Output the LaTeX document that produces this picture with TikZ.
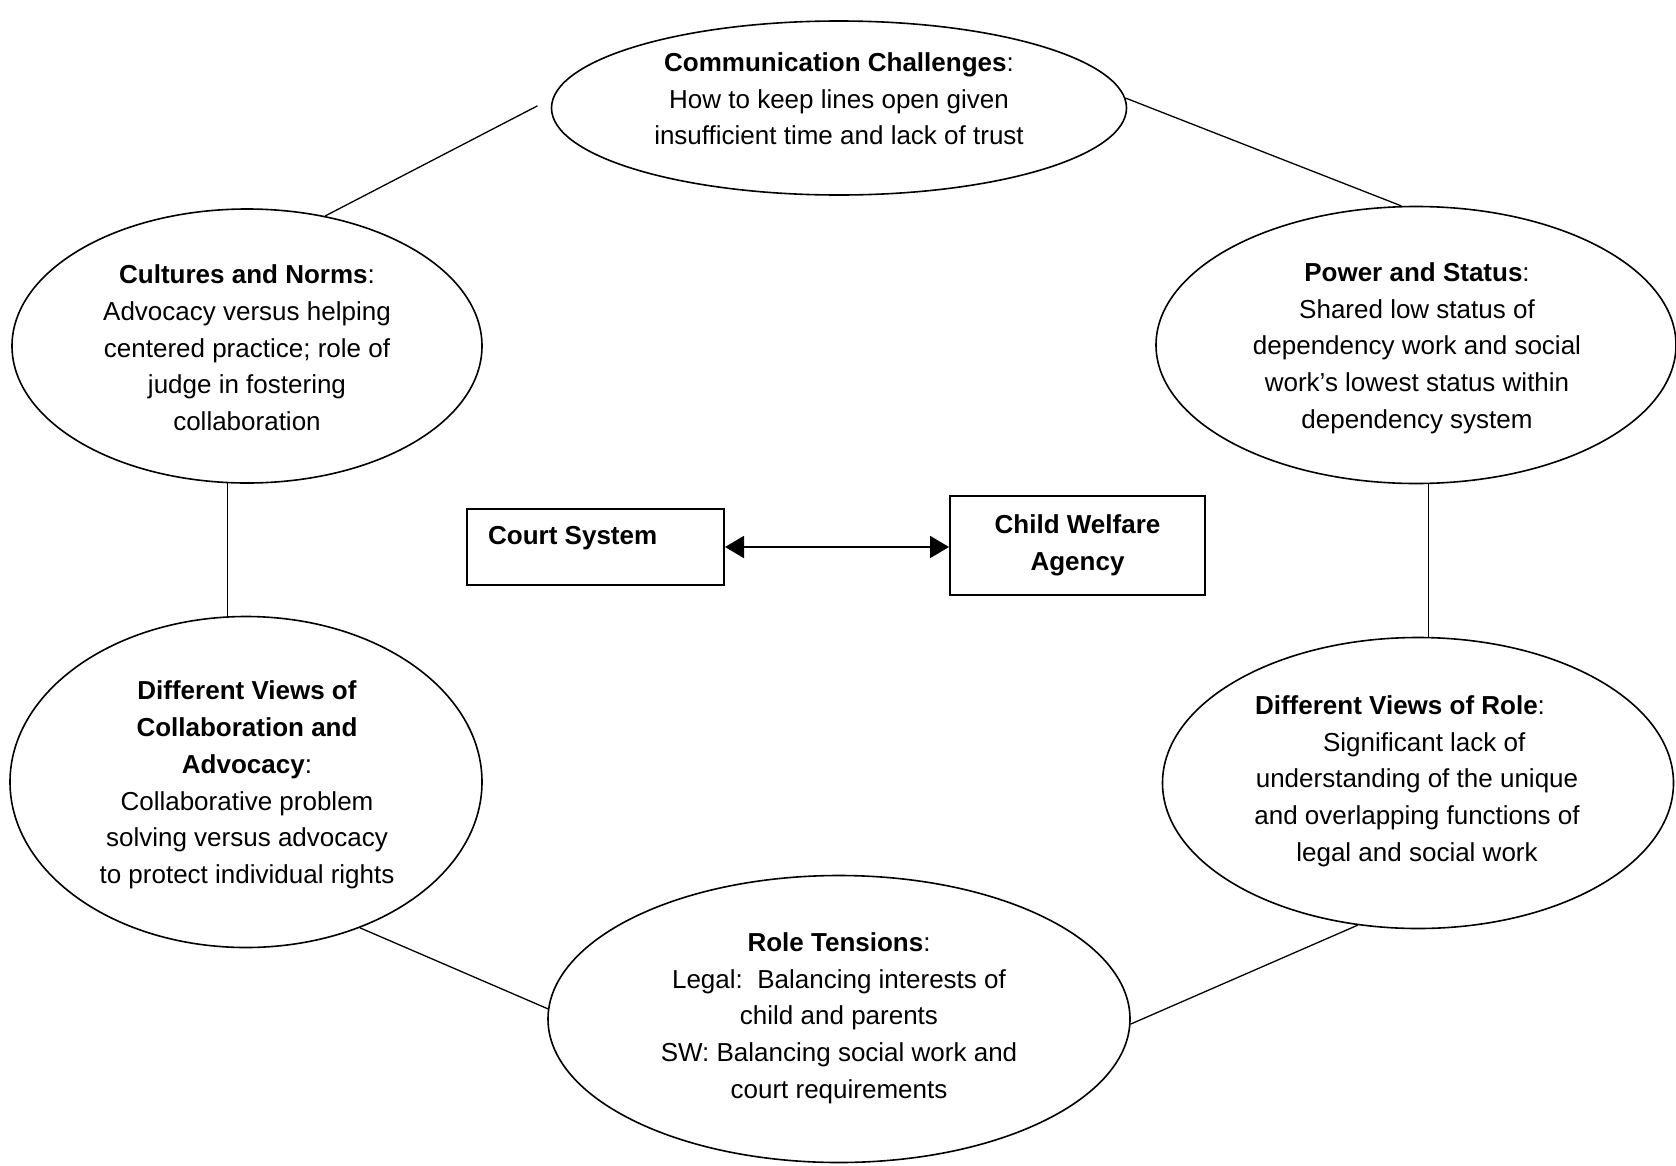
\documentclass[tikz,border=0pt]{standalone}
\usepackage{fontspec}
\setmainfont{Liberation Sans}
\usetikzlibrary{shapes.geometric,arrows.meta}
\begin{document}
\begin{tikzpicture}[x=1pt,y=-1pt,
  oval/.style={draw, ellipse, line width=1.6pt, inner sep=0pt},
  txt/.style={align=center, font=\fontsize{26}{36.7}\selectfont, inner sep=0pt},
  link/.style={line width=1.3pt},
  box/.style={draw, line width=2pt}]
\useasboundingbox (0,0) rectangle (1676,1165);

% ellipses
\node[oval, minimum width=575pt, minimum height=174pt] (comm) at (839,108) {};
\node[txt] (commT) at (839,99) {\textbf{Communication Challenges}:\\How to keep lines open given\\insufficient time and lack of trust};

\node[oval, minimum width=470pt, minimum height=274pt] (cult) at (247,346) {};
\node[txt] (cultT) at (247,348) {\textbf{Cultures and Norms}:\\Advocacy versus helping\\centered practice; role of\\judge in fostering\\collaboration};

\node[oval, minimum width=520pt, minimum height=277pt] (pow) at (1416,345) {};
\node[txt] (powT) at (1417,348) {\textbf{Power and Status}:\\Shared low status of\\dependency work and social\\work’s lowest status within\\dependency system};

\node[oval, minimum width=472pt, minimum height=331pt] (collab) at (246,782) {};
\node[txt] (collabT) at (247,785) {\textbf{Different Views of}\\\textbf{Collaboration and}\\\textbf{Advocacy}:\\Collaborative problem\\solving versus advocacy\\to protect individual rights};

\node[oval, minimum width=511pt, minimum height=291pt] (rview) at (1418,783) {};
\node[txt] (rviewT) at (1417,781) {\textbf{Different Views of Role}:\hspace*{34pt}\\\ \ Significant lack of\\understanding of the unique\\and overlapping functions of\\legal and social work};

\node[oval, minimum width=582pt, minimum height=287pt] (tens) at (839,1019) {};
\node[txt] (tensT) at (839,1018) {\textbf{Role Tensions}:\\Legal:\ \ Balancing interests of\\child and parents\\SW: Balancing social work and\\court requirements};

% boxes
\node[box, minimum width=257pt, minimum height=76pt] (court) at (595.5,547) {};
\node[txt, anchor=west] (courtT) at (488,538) {\textbf{Court System}};
\node[txt, box, minimum width=255pt, minimum height=99pt] (child) at (1077.5,545.5) {\textbf{Child Welfare}\\\textbf{Agency}};

% connectors
\draw[link, shorten <=17pt] (comm.178) -- (cult.59);
\draw[link] (comm.2) -- (pow.96);
\draw[link] (cult.262) -- (cult.262 |- collab.north);
\draw[link] (pow.275) -- (pow.275 |- rview.north);
\draw[link] (collab.308) -- (tens.178);
\draw[link] (tens.359) -- (rview.247);

\draw[line width=2pt, {Triangle[length=19pt,width=22pt]}-{Triangle[length=19pt,width=22pt]}] (court.east) -- (court.east -| child.west);
\end{tikzpicture}
\end{document}
